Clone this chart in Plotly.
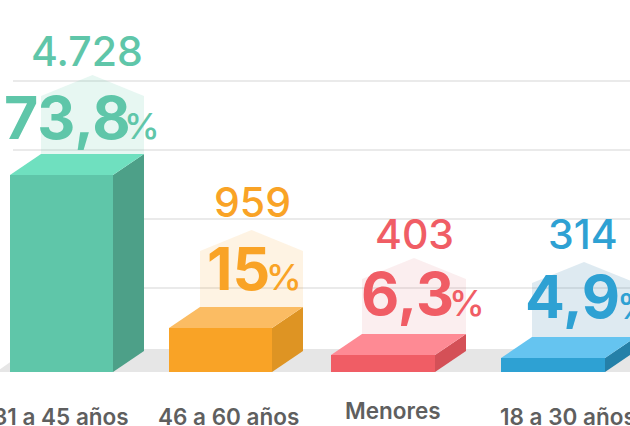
import plotly.graph_objects as go

# ---- data
categories = ["31 a 45 años", "46 a 60 años", "Menores", "18 a 30 años"]
counts = ["4.728", "959", "403", "314"]
percents = ["73,8", "15", "6,3", "4,9"]
# drawn bar heights in axis units (as seen in the picture)
bar_heights = [4728, 1056, 408, 336]
grid_ticks = [2016, 3672, 5328, 6984]

# ---- layout / style
W, H = 630, 426
GRID_LEFT = 13
BASE_PX = 372
U = 24  # axis units per pixel
bar_left = [10, 169, 331, 501]
bar_w = [103, 103, 104, 104]
DX, DY = 31, 21 * U
pent_sh = [58, 56, 55, 54]
PENT_PK = 21
front = ["#5fc6a9", "#f9a326", "#f05d65", "#2ea1d3"]
top = ["#6fe0bf", "#fbbc63", "#fe8a94", "#65c4f0"]
side = ["#4da088", "#de9423", "#d45057", "#2580a8"]
pent = ["rgba(95,198,169,0.15)", "rgba(249,163,38,0.13)", "rgba(220,90,100,0.10)", "rgba(60,130,170,0.17)"]
text_col = ["#5fc6a9", "#f9a326", "#f05d65", "#2ea1d3"]
count_xy = [(86.5, 50.5), (252, 202), (414, 234), (583, 234)]
pct_xy = [(67, 117), (238, 268), (407, 293.5), (572, 296.5)]
sign_x = [124, 266, 449, 617]
sign_y = [126, 277, 303, 306]
cat_xy = [(61, 416), (228, 416), (393, 410), (568, 416)]
FONT = "Inter"


def y_of(px):
    return (BASE_PX - px) * U


fig = go.Figure()


def poly(xs, ys, color):
    fig.add_trace(go.Scatter(x=xs + xs[:1], y=ys + ys[:1], mode="lines", fill="toself",
                             fillcolor=color, line=dict(width=0), hoverinfo="skip",
                             showlegend=False, cliponaxis=False))


# gridlines (they start a little to the right of the chart's left edge)
gx, gy = [], []
for t in grid_ticks:
    gx += [GRID_LEFT, W, None]
    gy += [t, t, None]
fig.add_trace(go.Scatter(x=gx, y=gy, mode="lines", line=dict(color="#e3e3e3", width=1.3),
                         hoverinfo="skip", showlegend=False))

# floor
poly([-4, 29, 700, 700], [0, 23 * U, 23 * U, 0], "#e6e6e6")

for i, h in enumerate(bar_heights):
    l, w = bar_left[i], bar_w[i]
    r = l + w
    s = pent_sh[i] * U
    p = (pent_sh[i] + PENT_PK) * U
    poly([l + DX, r + DX, r + DX, l + DX + w / 2, l + DX],
         [h + DY, h + DY, h + DY + s, h + DY + p, h + DY + s], pent[i])
    poly([l, r, r, l], [0, 0, h, h], front[i])
    poly([r, r + DX, r + DX, r], [0, DY, h + DY, h], side[i])
    poly([l, r, r + DX, l + DX], [h, h, h + DY, h + DY], top[i])

ann = []
for i in range(4):
    ann.append(dict(x=count_xy[i][0], y=y_of(count_xy[i][1]), text=counts[i], xanchor="center",
                    font=dict(family=FONT, size=41, color=text_col[i], weight=500)))
    ann.append(dict(x=pct_xy[i][0], y=y_of(pct_xy[i][1]), text=percents[i], xanchor="center",
                    font=dict(family=FONT, size=59, color=text_col[i], weight=700)))
    ann.append(dict(x=sign_x[i], y=y_of(sign_y[i]), text="%", xanchor="left",
                    font=dict(family=FONT, size=36, color=text_col[i], weight=500)))
    ann.append(dict(x=cat_xy[i][0], y=y_of(cat_xy[i][1]), text=categories[i], xanchor="center",
                    font=dict(family=FONT, size=22.5, color="#5f5f5f", weight=600)))
for a in ann:
    a.update(xref="x", yref="y", showarrow=False, yanchor="middle",
             borderpad=0, borderwidth=0)

fig.update_layout(
    width=W, height=H, margin=dict(l=0, r=0, t=0, b=0),
    paper_bgcolor="white", plot_bgcolor="white", showlegend=False, annotations=ann,
    xaxis=dict(range=[0, W], visible=False, fixedrange=True),
    yaxis=dict(range=[y_of(H), y_of(0)], visible=False, fixedrange=True),
)
fig.write_html("out.html", config=dict(displayModeBar=False),
               post_script="document.body.style.margin='0';document.body.style.overflow='hidden';")
